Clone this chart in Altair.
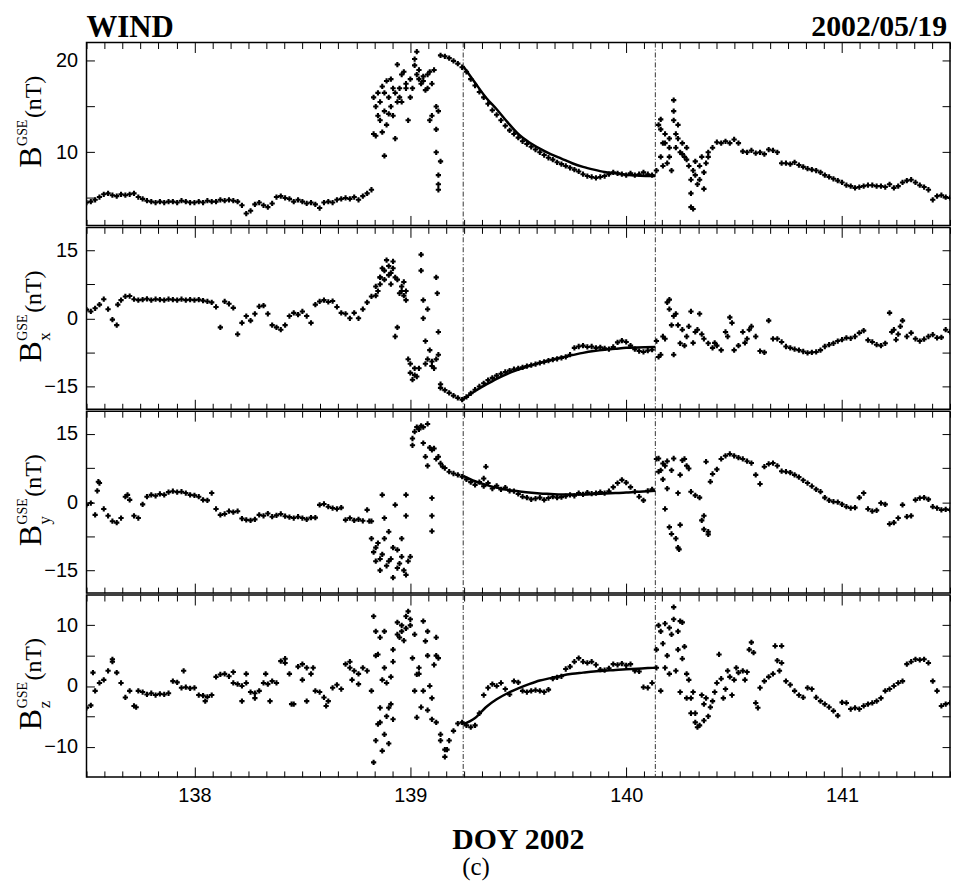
import altair as alt
import pandas as pd

# ---------------- data ----------------
T0 = 137.5          # first sample (DOY)
DT = 0.02           # sample spacing (day)

B_VALS = [
    4.5, 4.6, 4.8, 5.1, 5.4, 5.5, 5.3, 5.2, 5.4, 5.3,
    5.4, 5.5, 5.1, 4.9, 4.7, 4.6, 4.5, 4.6, 4.5, 4.6,
    4.6, 4.5, 4.7, 4.6, 4.5, 4.5, 4.6, 4.5, 4.7, 4.6,
    4.6, 4.8, 4.7, 4.8, 4.7, 4.6, 4.2, 3.3, 3.6, 4.3,
    4.5, 4.2, 4.0, 4.4, 5.1, 5.2, 5.0, 4.9, 4.6, 4.8,
    4.6, 4.4, 4.5, 4.3, 3.9, 4.5, 4.6, 4.5, 4.8, 4.9,
    5.0, 4.9, 5.1, 4.8, 5.2, 5.5, 5.9, 15.0, 13.5, 16.5,
    14.2, 17.0, 15.5, 18.5, 17.5, 16.0, 19.5, 18.0, 17.8, 18.5,
    17.5, 15.0, 20.6, 20.5, 20.3, 20.0, 19.7, 19.3, 18.8, 18.0,
    17.3, 16.6, 16.0, 15.3, 14.6, 14.1, 13.5, 12.9, 12.4, 12.0,
    11.6, 11.2, 10.9, 10.6, 10.3, 10.0, 9.7, 9.4, 9.2, 8.9,
    8.7, 8.5, 8.3, 8.1, 7.9, 7.6, 7.4, 7.3, 7.2, 7.3,
    7.4, 7.6, 7.8, 7.7, 7.6, 7.5, 7.7, 7.5, 7.6, 7.8,
    7.6, 7.5, 8.0, 12.5, 11.0, 10.5, 14.5, 11.5, 9.8, 9.2,
    5.5, 7.5, 8.5, 7.8, 9.5, 10.5, 11.1, 11.0, 11.2, 11.0,
    11.4, 11.0, 10.1, 10.0, 10.2, 9.9, 10.0, 9.8, 10.3, 10.2,
    10.0, 8.8, 8.8, 8.7, 8.9, 8.6, 8.4, 8.2, 8.1, 8.0,
    7.8, 7.5, 7.3, 7.1, 6.9, 6.7, 6.4, 6.3, 6.1, 6.2,
    6.3, 6.4, 6.4, 6.3, 6.3, 6.2, 6.5, 6.1, 6.3, 6.7,
    6.9, 7.0, 6.7, 6.4, 6.2, 5.9, 4.8, 5.2, 5.3, 5.1,
    5.0,
]
B_EXTRA = [
    (138.83, 16.0), (138.83, 12.0), (138.84, 11.8), (138.85, 14.0), (138.85, 16.5),
    (138.86, 15.5), (138.87, 12.2), (138.87, 17.2), (138.88, 14.5), (138.88, 9.6),
    (138.89, 13.0), (138.89, 17.8), (138.90, 16.0), (138.91, 15.0), (138.91, 18.0),
    (138.92, 14.0), (138.93, 11.5), (138.93, 16.5), (138.94, 19.6), (138.95, 17.0),
    (138.95, 16.0), (138.96, 15.5), (138.97, 18.8), (138.98, 17.0), (138.99, 13.5),
    (139.00, 18.0), (139.01, 17.0), (139.02, 20.2), (139.03, 21.0), (139.03, 18.5),
    (139.04, 19.0), (139.05, 17.5), (139.06, 18.3), (139.07, 16.8), (139.08, 17.0),
    (139.09, 13.5), (139.09, 18.8), (139.10, 14.0), (139.11, 19.0), (139.12, 12.5),
    (139.12, 10.0), (139.13, 14.5), (139.13, 7.5), (139.13, 6.5), (139.13, 5.9),
    (139.14, 9.0),
    (140.15, 13.0), (140.16, 13.6), (140.16, 9.5), (140.17, 11.0), (140.17, 8.5),
    (140.18, 12.0), (140.19, 8.8), (140.20, 9.5), (140.20, 11.5), (140.21, 8.0),
    (140.22, 15.7), (140.22, 13.5), (140.23, 12.0), (140.23, 10.5), (140.24, 13.0),
    (140.25, 10.0), (140.26, 11.0), (140.27, 9.5), (140.28, 10.5), (140.29, 8.5),
    (140.30, 7.0), (140.30, 4.0), (140.31, 3.8), (140.31, 8.0), (140.32, 9.0),
    (140.33, 6.5), (140.34, 7.0), (140.35, 9.5), (140.36, 6.0), (140.37, 8.8),
    (140.38, 10.0),
]
B_FIT = [
    (139.245, 19.4), (139.30, 17.6), (139.35, 16.0), (139.40, 14.7), (139.45, 13.3),
    (139.50, 12.0), (139.55, 11.1), (139.60, 10.4), (139.65, 9.8), (139.70, 9.3),
    (139.75, 8.8), (139.80, 8.4), (139.85, 8.1), (139.90, 7.85), (139.95, 7.7),
    (140.00, 7.55), (140.05, 7.45), (140.10, 7.4), (140.135, 7.4),
]

BX_VALS = [
    1.9, 1.5, 2.2, 3.0, 4.2, 2.0, -0.3, -1.5, 4.0, 4.8,
    4.9, 4.2, 4.0, 4.1, 4.3, 4.0, 4.2, 4.1, 4.0, 4.2,
    4.1, 4.0, 4.2, 4.0, 4.1, 4.0, 4.1, 3.9, 3.7, 3.5,
    2.5, -2.0, 3.7, 3.2, 2.3, -3.5, -1.0, 0.5, -0.5, 1.0,
    2.6, 2.8, 1.0, -1.5, -2.0, -2.5, -1.5, 0.5, 1.2, 0.8,
    1.5, 0.5, -1.0, 3.0, 3.7, 4.0, 3.6, 3.8, 2.5, 1.2,
    1.0, 0.0, 1.2, 0.0, 2.0, 3.5, 4.8, 7.0, 9.0, 10.5,
    11.5, 12.5, 8.5, 7.0, 6.0, -10.0, -12.5, -11.0, 4.0, -9.0,
    -10.5, -9.0, -15.3, -15.8, -16.4, -17.0, -17.5, -17.9, -17.3, -16.5,
    -15.7, -15.0, -14.3, -13.6, -13.1, -12.6, -12.2, -11.8, -11.5, -11.2,
    -11.0, -10.8, -10.5, -10.3, -10.1, -9.8, -9.6, -9.3, -9.1, -8.9,
    -8.7, -8.5, -8.0, -6.5, -6.2, -6.0, -6.3, -6.2, -6.5, -6.4,
    -6.6, -6.8, -6.3, -5.3, -4.9, -5.2, -6.0, -6.8, -7.2, -7.4,
    -7.1, -6.9, -5.0, -8.0, -4.5, 2.0, 0.5, -1.5, -2.5, -4.0,
    1.5, -3.0, 1.0, -4.5, -5.5, -6.5, -6.0, -7.0, -3.0, 0.2,
    -7.0, -6.0, -3.0, -4.5, -1.8, -4.0, -7.2, -7.5, -0.5, -4.5,
    -4.5, -5.2, -6.2, -6.5, -6.8, -7.0, -7.3, -7.6, -7.5, -7.4,
    -7.0, -6.2, -5.8, -5.5, -5.0, -4.7, -4.3, -4.4, -4.0, -3.2,
    -2.7, -4.8, -5.2, -5.8, -6.0, -5.5, 1.2, -2.5, -3.5, -0.5,
    -4.0, -3.2, -4.5, -5.0, -4.6, -4.0, -3.6, -4.3, -4.2, -2.5,
    -3.0,
]
BX_EXTRA = [
    (137.645, 3.0), (138.84, 5.0), (138.85, 6.0), (138.86, 9.0), (138.86, 7.5),
    (138.87, 11.0), (138.88, 8.5), (138.89, 12.8), (138.90, 9.5), (138.91, 10.0),
    (138.91, 7.5), (138.92, 11.0), (138.93, 9.0), (138.93, -4.0), (138.94, -2.0),
    (138.95, 5.5), (138.96, 6.0), (138.97, 8.0), (138.97, 5.0), (138.98, 4.0),
    (138.99, -9.0), (139.00, -12.0), (139.01, -13.5), (139.02, -11.0), (139.03, -12.8),
    (139.05, 14.0), (139.05, 10.5), (139.06, 0.0), (139.07, -5.0), (139.07, -10.0),
    (139.08, 2.0), (139.09, -7.0), (139.10, -9.5), (139.11, -11.0), (139.12, 9.0),
    (139.125, 5.5), (139.13, -3.0), (139.13, -8.0), (139.14, -14.5),
    (140.15, -8.5), (140.17, -4.0), (140.19, 3.5), (140.20, 4.1), (140.21, -1.5),
    (140.22, -8.0), (140.23, 1.0), (140.25, -5.5), (140.27, -6.0), (140.29, -1.8),
    (140.31, -5.4), (140.33, -2.5), (140.35, -3.5), (140.41, -5.4), (140.47, -4.0),
    (140.49, -1.0), (140.55, -5.4), (140.57, -2.5), (141.23, -3.0), (141.25, -4.7),
    (141.27, -1.8),
]
BX_FIT = [
    (139.245, -17.8), (139.30, -16.0), (139.35, -14.6), (139.40, -13.3), (139.45, -12.2),
    (139.50, -11.3), (139.55, -10.5), (139.60, -9.8), (139.65, -9.2), (139.70, -8.6),
    (139.75, -8.1), (139.80, -7.6), (139.85, -7.2), (139.90, -6.9), (139.95, -6.7),
    (140.00, -6.5), (140.05, -6.4), (140.135, -6.3),
]

BY_VALS = [
    -0.6, -0.2, -2.8, 4.2, -1.5, -3.0, -4.2, -4.5, -3.5, 1.2,
    0.5, -3.0, -3.5, -0.5, 1.2, 1.6, 1.4, 1.8, 1.6, 2.2,
    2.4, 2.2, 2.3, 2.0, 1.6, 1.5, 1.2, 0.5, 0.4, 2.0,
    -1.5, -2.8, -2.6, -2.0, -2.2, -2.0, -3.6, -3.9, -4.0, -3.8,
    -2.8, -3.0, -2.5, -3.2, -2.9, -2.6, -3.1, -3.3, -3.5, -3.2,
    -3.5, -3.8, -3.4, -3.4, -0.6, -0.4, -1.0, -1.3, -1.5, -1.2,
    -3.9, -3.5, -4.0, -3.8, -4.1, -1.7, -4.2, -10.0, -12.5, -8.0,
    -13.0, -10.0, -14.5, -12.0, -16.0, -12.0, 15.5, 16.0, 16.5, 17.2,
    11.5, 9.5, 8.5, 7.5, 6.7, 6.3, 6.0, 5.6, 5.0, 4.4,
    3.8, 4.4, 3.5, 4.2, 3.0, 3.6, 2.8, 3.2, 2.5, 2.4,
    1.8, 1.2, 1.0, 0.6, 0.8, 1.0, 0.5, 0.9, 1.2, 1.0,
    1.1, 1.3, 1.6, 1.4, 2.0, 1.7, 2.1, 1.9, 2.0, 2.2,
    2.0, 2.4, 3.3, 4.2, 4.9, 4.3, 3.3, 2.3, 1.2, 0.4,
    2.5, 2.8, 9.5, 7.0, 8.0, -5.5, 9.6, -10.0, 9.2, 8.0,
    2.3, 1.5, 1.0, -3.0, -6.5, 6.2, 7.2, 9.5, 10.2, 10.6,
    10.2, 9.8, 9.5, 9.0, 8.6, 6.0, 4.0, 7.8, 8.4, 8.6,
    8.0, 6.8, 6.7, 6.5, 6.0, 5.5, 4.8, 4.2, 3.5, 2.8,
    2.3, 1.0, 0.4, 0.1, 0.0, -0.5, -1.0, -1.3, -1.2, 1.0,
    2.0, -1.5, -2.0, -1.8, -0.2, -0.5, -4.8, -4.5, -3.5, -0.6,
    -3.2, -3.0, 0.5, 0.9, 1.0, 0.6, -1.0, -1.3, -1.7, -1.6,
    -1.7,
]
BY_EXTRA = [
    (137.555, 4.5), (137.55, 2.5), (137.69, 1.6), (138.81, -4.2), (138.82, -8.0),
    (138.83, -11.0), (138.84, -13.0), (138.85, -9.0), (138.86, -15.0), (138.87, 1.6),
    (138.87, -11.5), (138.88, -3.5), (138.89, -14.0), (138.90, -6.5), (138.91, -12.5),
    (138.92, -16.6), (138.93, -0.6), (138.94, -10.5), (138.95, -13.5), (138.96, -8.0),
    (138.97, -15.0), (138.98, 1.6), (138.98, -3.0), (138.99, -13.0), (139.01, 14.0),
    (139.01, 12.5), (139.03, 16.5), (139.05, 16.8), (139.06, 13.0), (139.07, 10.0),
    (139.08, 8.0), (139.09, 12.0), (139.10, 0.9), (139.10, -3.0), (139.10, -6.4),
    (139.11, 11.8), (139.13, 10.0), (139.15, 7.8),
    (139.35, 7.8), (139.34, 5.2), (140.15, 9.6), (140.15, 6.7), (140.17, 5.0),
    (140.17, 8.5), (140.18, -1.5), (140.19, 3.0), (140.19, 9.0), (140.21, -7.0),
    (140.21, 7.0), (140.23, -8.0), (140.245, -10.4), (140.24, 2.0), (140.25, -5.0),
    (140.25, 6.0), (140.27, 9.5), (140.29, 7.4), (140.35, -4.0), (140.36, -6.0),
    (140.37, 8.9), (140.38, -7.1), (140.39, 4.5),
]
BY_FIT = [
    (139.245, 5.8), (139.30, 4.6), (139.35, 3.8), (139.40, 3.2), (139.45, 2.7),
    (139.50, 2.4), (139.55, 2.1), (139.60, 1.9), (139.65, 1.8), (139.70, 1.7),
    (139.75, 1.7), (139.80, 1.7), (139.85, 1.8), (139.90, 1.9), (139.95, 2.0),
    (140.00, 2.1), (140.05, 2.3), (140.10, 2.4), (140.135, 2.5),
]

BZ_VALS = [
    -3.6, -3.2, -0.8, 0.5, 1.0, 2.5, 4.0, 2.2, 0.5, -1.9,
    -0.8, -3.3, -0.8, -1.0, -1.4, -1.2, -1.5, -1.3, -1.4, -1.2,
    0.8, 0.6, -0.3, -0.2, -0.4, -0.3, -1.5, -1.6, -1.8, -1.5,
    1.5, 1.9, 2.0, 1.6, 0.5, 0.3, 0.0, 0.5, -1.0, -1.2,
    -0.8, 0.5, 0.3, 0.8, 0.5, 4.1, 3.8, 2.0, -3.0, 3.2,
    3.6, 3.0, 2.0, -0.8, -1.0, -1.9, -2.5, -0.3, 0.2, -0.5,
    3.6, 3.0, 2.5, 0.3, 3.0, 2.5, -0.8, 5.0, -6.0, 9.0,
    -3.6, 4.0, 8.5, 10.0, 9.5, 11.0, 8.5, 2.0, -0.8, 9.0,
    -2.0, 5.0, -8.0, -10.5, -9.0, -7.4, -6.2, -6.0, -6.5, -6.8,
    -6.5, -4.5, -1.5, -0.3, 0.3, 0.0, 0.5, -0.5, -1.4, 0.8,
    0.6, -0.8, -1.0, -0.8, -0.7, -0.8, -1.0, -0.6, 1.2, 1.4,
    1.6, 2.8, 3.2, 4.0, 4.6, 4.0, 3.8, 4.0, 3.5, 2.7,
    2.6, 2.9, 3.6, 3.5, 3.7, 3.4, 3.6, 2.5, 2.4, -0.2,
    -0.3, 0.5, 6.0, 9.0, 3.0, 9.6, 13.0, 6.0, 10.5, 2.0,
    -2.0, -4.5, -6.5, -3.0, -5.0, -2.5, 0.5, 1.2, -0.5, 1.5,
    1.0, 2.2, 2.5, 2.3, 7.2, -2.8, -0.3, 0.8, 1.5, 2.0,
    4.2, 3.8, 0.8, 0.2, -0.8, -1.5, -1.9, -0.3, -0.5, -1.9,
    -2.5, -3.0, -3.5, -4.1, -4.9, -2.7, -2.8, -3.8, -3.6, -3.8,
    -3.3, -3.0, -2.8, -2.5, -2.0, -0.8, -0.5, 0.0, 0.5, 0.8,
    3.6, 4.0, 4.4, 4.3, 4.4, 3.8, 0.8, -0.8, -3.3, -3.0,
    -2.8,
]
BZ_EXTRA = [
    (137.53, 2.2), (137.62, 4.4), (137.73, -3.5), (137.95, 2.5), (138.05, -2.5),
    (138.18, 2.3), (138.22, -2.5), (138.24, 2.0), (138.28, -2.0), (138.33, 2.0),
    (138.35, -2.5), (138.42, 4.5), (138.45, -3.0), (138.50, 1.0), (138.52, -2.5),
    (138.55, 3.0), (138.61, -3.3), (138.72, 4.0), (138.73, 1.0), (138.76, 2.0),
    (138.83, 11.5), (138.83, -12.6), (138.84, 9.0), (138.84, -9.0), (138.85, 5.2),
    (138.85, -6.3), (138.86, -3.6), (138.86, 8.0), (138.87, 1.0), (138.87, -10.7),
    (138.88, -8.0), (138.88, 3.0), (138.89, -5.0), (138.89, 0.5), (138.90, -9.5),
    (138.91, -3.0), (138.91, 1.5), (138.92, -5.5), (138.92, 6.0), (138.94, 10.5),
    (138.95, 8.0), (138.96, 9.0), (138.97, 7.5), (138.98, 11.5), (138.99, 12.3),
    (139.00, 10.0), (139.01, 4.6), (139.02, -0.8), (139.03, -5.2), (139.03, 1.9),
    (139.04, 3.0), (139.05, -3.5), (139.06, 10.7), (139.07, 7.4), (139.08, 5.0),
    (139.08, -4.0), (139.09, 0.0), (139.10, -5.5), (139.11, 3.5), (139.12, 8.0),
    (139.12, -6.0), (139.13, 4.6), (139.14, -9.0), (139.16, -11.7), (139.17, -10.5),
    (140.14, 3.0), (140.15, 10.0), (140.16, -0.8), (140.17, 7.0), (140.18, 10.3),
    (140.19, 5.0), (140.20, 2.0), (140.21, 8.5), (140.22, 11.0), (140.23, 2.5),
    (140.24, 9.0), (140.25, 10.7), (140.25, -1.0), (140.26, 4.5), (140.27, 6.5),
    (140.28, -2.0), (140.29, 1.0), (140.30, -4.5), (140.31, -1.0), (140.32, -6.0),
    (140.33, -6.8), (140.35, -1.5), (140.36, -5.7), (140.37, -2.0), (140.39, -3.5),
    (140.41, -1.0), (140.43, 5.2), (140.45, -2.0), (140.47, 2.5), (140.49, -1.5),
    (140.51, 3.0), (140.55, 1.0), (140.57, 6.0), (140.59, 5.5), (140.61, -3.6),
    (140.69, 6.6), (140.72, 6.6), (140.71, 2.5),
]
BZ_FIT = [
    (139.245, -6.3), (139.30, -5.3), (139.35, -3.5), (139.40, -2.2), (139.45, -1.2),
    (139.50, -0.4), (139.55, 0.3), (139.60, 0.9), (139.65, 1.3), (139.70, 1.7),
    (139.75, 2.0), (139.80, 2.2), (139.85, 2.4), (139.90, 2.5), (139.95, 2.65),
    (140.00, 2.75), (140.05, 2.85), (140.10, 2.95), (140.135, 3.0),
]

VLINES = [139.245, 140.135]

X_DOMAIN = [137.5, 141.5]
X_MAJOR = [138, 139, 140, 141]
X_MINOR = [round(137 + j / 12, 4) for j in range(6, 55) if j % 12]

PANEL_W = 869
SERIF = "Liberation Serif"
SANS = "Liberation Sans"
ONE = pd.DataFrame({"k": [0]})


def txt(s, x, y, size, angle=0, align="left", bold=False, font=SERIF):
    kw = dict(text=s, font=font, fontSize=size, align=align,
              baseline="alphabetic", color="black")
    if angle:
        kw["angle"] = angle
    if bold:
        kw["fontWeight"] = "bold"
    return alt.Chart(ONE).mark_text(**kw).encode(x=alt.value(x), y=alt.value(y))


def tick_axis(orient, values, size, labels=False):
    kw = dict(orient=orient, values=values, tickSize=size, offset=-size,
              domain=False, grid=False, labels=labels, ticks=True,
              tickColor="black", tickWidth=1, title=None,
              minExtent=0, maxExtent=60)
    if labels:
        kw.update(labelFont=SANS, labelFontSize=20, labelColor="black",
                  labelPadding=9, format="d")
    return alt.Axis(**kw)


def panel(vals, extras, fit, ydom, ymaj, ymin, h, sub, first, last, lab_start):
    xs = alt.Scale(domain=X_DOMAIN, nice=False, zero=False)
    ys = alt.Scale(domain=ydom, nice=False, zero=False)
    ts = [round(T0 + DT * i, 3) for i in range(len(vals))]
    df = pd.DataFrame({"t": ts + [e[0] for e in extras],
                       "v": list(vals) + [e[1] for e in extras]})
    fdf = pd.DataFrame({"t": [p[0] for p in fit], "v": [p[1] for p in fit]})
    vdf = pd.DataFrame({"t": VLINES})

    layers = []
    carriers = [
        (tick_axis("bottom", X_MAJOR, 10, labels=last), tick_axis("left", ymaj, 8, labels=True)),
        (tick_axis("bottom", X_MINOR, 6), tick_axis("left", ymin, 8)),
        (tick_axis("top", X_MAJOR, 10), tick_axis("right", ymaj + ymin, 8)),
        (tick_axis("top", X_MINOR, 6), None),
    ]
    for xa, ya in carriers:
        layers.append(
            alt.Chart(df).mark_point(opacity=0, size=1, clip=True).encode(
                x=alt.X("t:Q", scale=xs, axis=xa),
                y=alt.Y("v:Q", scale=ys, axis=ya),
            )
        )
    layers.append(
        alt.Chart(vdf).mark_rule(color="#333333", strokeWidth=1, strokeDash=[5, 2, 1, 2],
                                 clip=True).encode(
            x=alt.X("t:Q", scale=xs, axis=None)
        )
    )
    layers.append(
        alt.Chart(df).mark_point(shape="cross", filled=True, size=28, color="black",
                                 opacity=1, clip=True, strokeWidth=0).encode(
            x=alt.X("t:Q", scale=xs, axis=None),
            y=alt.Y("v:Q", scale=ys, axis=None),
        )
    )
    layers.append(
        alt.Chart(fdf).mark_line(color="black", strokeWidth=2.5, interpolate="monotone",
                                 clip=True).encode(
            x=alt.X("t:Q", scale=xs, axis=None),
            y=alt.Y("v:Q", scale=ys, axis=None),
        )
    )
    # rotated y label: B^GSE_sub(nT)
    layers.append(txt("B", -46, lab_start, 32, angle=270))
    layers.append(txt("GSE", -60, lab_start - 22, 14, angle=270))
    if sub:
        layers.append(txt(sub, -37, lab_start - 22, 17, angle=270))
    layers.append(txt("(nT)", -46, lab_start - 50, 24, angle=270))
    if first:
        layers.append(txt("WIND", 0, -6, 31, bold=True))
        layers.append(txt("2002/05/19", PANEL_W - 3, -6.5, 30, align="right", bold=True))
    if last:
        layers.append(txt("DOY 2002", PANEL_W / 2, h + 73, 30, align="center", bold=True))
        layers.append(txt("(c)", 392, h + 99, 25, align="center"))
    return alt.layer(*layers).resolve_axis(x="independent", y="independent").properties(
        width=PANEL_W, height=h
    )


p1 = panel(B_VALS, B_EXTRA, B_FIT, [2, 22], [10, 20], [5, 15], 184, "", True, False, 126)
p2 = panel(BX_VALS, BX_EXTRA, BX_FIT, [-20, 20], [-15, 0, 15], [-7.5, 7.5], 183, "x", False, False, 136)
p3 = panel(BY_VALS, BY_EXTRA, BY_FIT, [-20, 20], [-15, 0, 15], [-7.5, 7.5], 183, "y", False, False, 136)
p4 = panel(BZ_VALS, BZ_EXTRA, BZ_FIT, [-15, 15], [-10, 0, 10], [-5, 5], 183, "z", False, True, 136)

chart = (
    alt.vconcat(p1, p2, p3, p4, spacing=-4)
    .properties(padding={"left": 6, "top": 0, "right": 0, "bottom": 0})
    .configure_view(stroke="black", strokeWidth=1.5)
)

chart.save("out.html", embed_options={"renderer": "svg", "actions": False})
